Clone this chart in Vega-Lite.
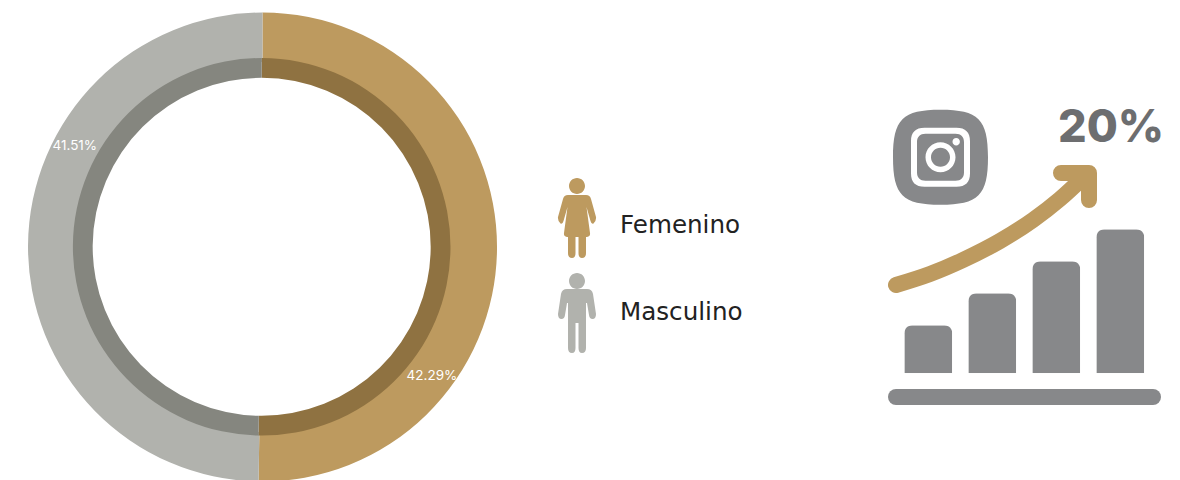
{"$schema":"https://vega.github.io/schema/vega-lite/v6.json","width":1180,"height":480,"autosize":{"type":"none"},"padding":0,"background":"#ffffff","config":{"view":{"stroke":null}},
"datasets":{"genero":[{"genero":"Femenino","parte":50.27,"etiqueta":"42.29%","angulo":127.3},{"genero":"Masculino","parte":49.73,"etiqueta":"41.51%","angulo":298.2}],
"barras":[{"paso":"1","valor":48},{"paso":"2","valor":80},{"paso":"3","valor":112},{"paso":"4","valor":144}],
"tendencia":[{"t":0,"v":0},{"t":34,"v":11},{"t":67,"v":25},{"t":104,"v":44},{"t":137,"v":65},{"t":164,"v":86},{"t":189,"v":109}],
"punta":[{"orden":1,"t":165,"v":112},{"orden":2,"t":193,"v":112},{"orden":3,"t":193,"v":85}]},
"resolve":{"scale":{"x":"independent","y":"independent","color":"independent","theta":"independent","shape":"independent"}},
"layer":[
{"data":{"name":"genero"},"mark":{"type":"arc","radius":234.5,"radius2":185},"encoding":{"x":{"value":262.5},"y":{"value":247},"theta":{"field":"parte","type":"quantitative","stack":true},"color":{"field":"genero","type":"nominal","scale":{"domain":["Femenino","Masculino"],"range":["#bd9a5f","#b1b2ad"]},"legend":null},"order":{"field":"genero"}}},
{"data":{"name":"genero"},"mark":{"type":"arc","radius":188.8,"radius2":169},"encoding":{"x":{"value":261.7},"y":{"value":246.8},"theta":{"field":"parte","type":"quantitative","stack":true},"color":{"field":"genero","type":"nominal","scale":{"domain":["Femenino","Masculino"],"range":["#8f7241","#85867f"]},"legend":null},"order":{"field":"genero"}}},
{"data":{"name":"genero"},"mark":{"type":"text","radius":213,"font":"Inter","fontSize":13.5,"fontWeight":400,"color":"#ffffff","align":"center","baseline":"middle"},"encoding":{"x":{"value":262.5},"y":{"value":247},"theta":{"field":"angulo","type":"quantitative","stack":null,"scale":{"domain":[0,360]}},"text":{"field":"etiqueta"}}},
{"data":{"name":"genero"},"mark":{"type":"point","filled":true,"size":4,"opacity":1,"strokeWidth":0},"encoding":{"x":{"value":577},"y":{"field":"genero","type":"nominal","axis":null,"scale":{"type":"point","padding":0,"domain":["Femenino","Masculino"],"range":[220,312]}},
"color":{"field":"genero","type":"nominal","scale":{"domain":["Femenino","Masculino"],"range":["#bd9a5f","#b1b2ad"]},"legend":null},
"shape":{"field":"genero","type":"nominal","legend":null,"scale":{"domain":["Femenino","Masculino"],"range":[
"M-8,-34 A8,8 0 1,1 8,-34 A8,8 0 1,1 -8,-34 Z M-9,-25 L9,-25 Q13,-25 14,-21 L19,-3 Q19.5,1 16.5,3.5 Q14.5,4.5 13.5,1 L9.5,-13 L13,13 Q13.5,16.5 10,17 L9,17 L9,33 Q9,38 5,38 Q1.5,38 1.5,33 L1.5,17 L-1.5,17 L-1.5,33 Q-1.5,38 -5,38 Q-9,38 -9,33 L-9,17 L-10,17 Q-13.5,16.5 -13,13 L-9.5,-13 L-13.5,1 Q-14.5,4.5 -16.5,3.5 Q-19.5,1 -19,-3 L-14,-21 Q-13,-25 -9,-25 Z",
"M-8,-31 A8,8 0 1,1 8,-31 A8,8 0 1,1 -8,-31 Z M-10,-23 L10,-23 Q15,-23 16,-18 L19,2 Q19,7 15.5,7 Q12.5,7 12,3 L10,-9 L9,-9 L9,36 Q9,41 5,41 Q1.5,41 1.5,36 L1.5,11 L-1.5,11 L-1.5,36 Q-1.5,41 -5,41 Q-9,41 -9,36 L-9,-9 L-10,-9 L-12,3 Q-12.5,7 -15.5,7 Q-19,7 -19,2 L-16,-18 Q-15,-23 -10,-23 Z"]}}}},
{"data":{"name":"genero"},"mark":{"type":"text","font":"DejaVu Sans","fontSize":24.6,"color":"#222222","align":"left","baseline":"middle"},"encoding":{"x":{"value":620},"y":{"field":"genero","type":"nominal","axis":null,"scale":{"type":"point","padding":0,"domain":["Femenino","Masculino"],"range":[226,312.5]}},"text":{"field":"genero"}}},
{"data":{"name":"barras"},"mark":{"type":"bar","color":"#87888a","cornerRadiusEnd":8},"encoding":{"x":{"field":"paso","type":"nominal","axis":null,"scale":{"type":"band","paddingInner":0.25,"paddingOuter":0,"range":[904.3,1144.3]}},"y":{"field":"valor","type":"quantitative","axis":null,"scale":{"domain":[0,144],"range":[373.3,229.3]}}}},
{"data":{"values":[{"base":"eje"}]},"mark":{"type":"rule","color":"#87888a","strokeWidth":16,"strokeCap":"round"},"encoding":{"x":{"value":896},"x2":{"value":1153},"y":{"value":397}}},
{"data":{"name":"tendencia"},"mark":{"type":"line","color":"#bd9a5f","strokeWidth":16,"strokeCap":"round","interpolate":"monotone"},"encoding":{"x":{"field":"t","type":"quantitative","axis":null,"scale":{"domain":[0,189],"range":[896,1085]}},"y":{"field":"v","type":"quantitative","axis":null,"scale":{"domain":[0,109],"range":[285,176]}}}},
{"data":{"name":"punta"},"mark":{"type":"line","color":"#bd9a5f","strokeWidth":16,"strokeCap":"round","strokeJoin":"round"},"encoding":{"x":{"field":"t","type":"quantitative","axis":null,"scale":{"domain":[0,189],"range":[896,1085]}},"y":{"field":"v","type":"quantitative","axis":null,"scale":{"domain":[0,109],"range":[285,176]}},"order":{"field":"orden"}}},
{"data":{"values":[{"icono":"instagram"}]},"mark":{"type":"point","filled":true,"size":4,"opacity":1,"strokeWidth":0,"color":"#87888a","shape":"M0,-47.5 C38,-47.5 47.5,-38 47.5,0 C47.5,38 38,47.5 0,47.5 C-38,47.5 -47.5,38 -47.5,0 C-47.5,-38 -38,-47.5 0,-47.5 Z M-16,-29.5 C-25,-29.5 -29.5,-25 -29.5,-16 L-29.5,16 C-29.5,25 -25,29.5 -16,29.5 L16,29.5 C25,29.5 29.5,25 29.5,16 L29.5,-16 C29.5,-25 25,-29.5 16,-29.5 Z M-15,-23.5 L15,-23.5 C20.5,-23.5 23.5,-20.5 23.5,-15 L23.5,15 C23.5,20.5 20.5,23.5 15,23.5 L-15,23.5 C-20.5,23.5 -23.5,20.5 -23.5,15 L-23.5,-15 C-23.5,-20.5 -20.5,-23.5 -15,-23.5 Z M-15,0 A15,15 0 1,0 15,0 A15,15 0 1,0 -15,0 Z M-9.5,0 A9.5,9.5 0 1,1 9.5,0 A9.5,9.5 0 1,1 -9.5,0 Z M12,-15.5 A3.7,3.7 0 1,0 19.4,-15.5 A3.7,3.7 0 1,0 12,-15.5 Z"},"encoding":{"x":{"value":940.5},"y":{"value":157.3}}},
{"data":{"values":[{"texto":"20%"}]},"mark":{"type":"text","font":"Inter","fontSize":45,"fontWeight":800,"color":"#6d6e70","align":"left","baseline":"alphabetic"},"encoding":{"x":{"value":1058},"y":{"value":142},"text":{"field":"texto"}}}
]}
